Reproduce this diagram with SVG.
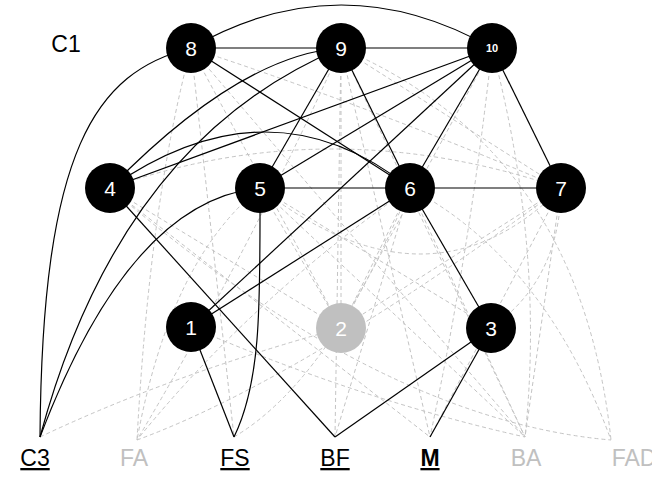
<svg xmlns="http://www.w3.org/2000/svg" width="652" height="478" viewBox="0 0 652 478">
<style>
.e{fill:none;stroke:#000;stroke-width:1.2}
.d{fill:none;stroke:#c4c4c4;stroke-width:1;stroke-dasharray:4,3}
.n circle{fill:#000}
.n text{fill:#fff;font-family:"Liberation Sans",Arial,sans-serif;font-size:21px;text-anchor:middle}
.g circle{fill:#c0c0c0}
.lb{font-family:"Liberation Sans",Arial,sans-serif;font-size:23px;text-anchor:middle}
</style>
<rect width="652" height="478" fill="#fff"/>
<g id="dashed">
<path class="d" d="M191,48 Q150,200 137,440"/>
<path class="d" d="M191,48 L234,437"/>
<path class="d" d="M191,48 L341,328"/>
<path class="d" d="M191,48 Q380,110 561,188"/>
<path class="d" d="M191,48 L525,437"/>
<path class="d" d="M341,48 L341,328"/>
<path class="d" d="M341,48 L335,437"/>
<path class="d" d="M341,48 Q250,250 137,440"/>
<path class="d" d="M341,48 L430,437"/>
<path class="d" d="M341,48 L525,437"/>
<path class="d" d="M341,48 L561,188"/>
<path class="d" d="M341,48 Q580,150 611,440"/>
<path class="d" d="M492,48 L341,328"/>
<path class="d" d="M492,48 Q470,250 430,437"/>
<path class="d" d="M492,48 Q545,250 525,437"/>
<path class="d" d="M110,188 L341,328"/>
<path class="d" d="M110,188 L430,437"/>
<path class="d" d="M110,188 Q330,110 561,188"/>
<path class="d" d="M110,188 Q380,420 611,440"/>
<path class="d" d="M260,188 L341,328"/>
<path class="d" d="M260,188 L525,437"/>
<path class="d" d="M260,188 L491,328"/>
<path class="d" d="M260,188 Q170,260 137,440"/>
<path class="d" d="M260,188 Q430,320 561,188"/>
<path class="d" d="M410,188 Q250,300 137,440"/>
<path class="d" d="M410,188 L341,328"/>
<path class="d" d="M410,188 L335,437"/>
<path class="d" d="M410,188 L525,437"/>
<path class="d" d="M410,188 Q545,260 611,440"/>
<path class="d" d="M561,188 L341,328"/>
<path class="d" d="M561,188 Q560,280 491,328"/>
<path class="d" d="M561,188 L525,437"/>
<path class="d" d="M561,188 L430,437"/>
<path class="d" d="M191,327 Q360,400 525,437"/>
<path class="d" d="M40,437 Q170,375 341,328"/>
<path class="d" d="M234,437 Q330,380 410,188"/>
<path class="d" d="M137,440 Q300,380 561,188"/>
</g>
<g id="edges">
<path class="e" d="M191,48 L341,48"/>
<path class="e" d="M341,48 L492,48"/>
<path class="e" d="M191,48 Q341,-38 492,48"/>
<path class="e" d="M191,48 L410,188"/>
<path class="e" d="M191,48 C95,72 42,150 40,437"/>
<path class="e" d="M341,48 Q240,55 110,188"/>
<path class="e" d="M341,48 Q120,140 40,437"/>
<path class="e" d="M341,48 L260,188"/>
<path class="e" d="M341,48 L410,188"/>
<path class="e" d="M492,48 L110,188"/>
<path class="e" d="M492,48 L260,188"/>
<path class="e" d="M492,48 L191,327"/>
<path class="e" d="M492,48 L410,188"/>
<path class="e" d="M492,48 L561,188"/>
<path class="e" d="M110,188 Q270,76 410,188"/>
<path class="e" d="M110,188 L335,437"/>
<path class="e" d="M260,188 L410,188"/>
<path class="e" d="M410,188 L561,188"/>
<path class="e" d="M260,188 Q130,200 40,437"/>
<path class="e" d="M260,188 C260,300 262,380 234,437"/>
<path class="e" d="M410,188 L191,327"/>
<path class="e" d="M410,188 L491,328"/>
<path class="e" d="M191,327 L234,437"/>
<path class="e" d="M491,328 L335,437"/>
<path class="e" d="M491,328 L430,437"/>
</g>
<g id="n8" class="n"><circle cx="191" cy="48" r="25"/><text x="191" y="55.5">8</text></g>
<g id="n9" class="n"><circle cx="341" cy="48" r="25"/><text x="341" y="55.5">9</text></g>
<g id="n10" class="n"><circle cx="492" cy="48" r="25"/><text x="492" y="52" style="font-size:11px;font-weight:bold">10</text></g>
<g id="n4" class="n"><circle cx="110" cy="188" r="25"/><text x="110" y="195.5">4</text></g>
<g id="n5" class="n"><circle cx="260" cy="188" r="25"/><text x="260" y="195.5">5</text></g>
<g id="n6" class="n"><circle cx="410" cy="188" r="25"/><text x="410" y="195.5">6</text></g>
<g id="n7" class="n"><circle cx="561" cy="188" r="25"/><text x="561" y="195.5">7</text></g>
<g id="n1" class="n"><circle cx="191" cy="327" r="25"/><text x="191" y="334.5">1</text></g>
<g id="n2" class="n g"><circle cx="341" cy="328" r="25"/><text x="341" y="335.5">2</text></g>
<g id="n3" class="n"><circle cx="491" cy="328" r="25"/><text x="491" y="335.5">3</text></g>
<g id="labels">
<text class="lb" x="66" y="52">C1</text>
<text class="lb" x="35" y="466" text-decoration="underline">C3</text>
<text class="lb" x="134" y="466" fill="#c0c0c0">FA</text>
<text class="lb" x="235" y="466" text-decoration="underline">FS</text>
<text class="lb" x="335" y="466" text-decoration="underline">BF</text>
<text class="lb" x="430" y="466" text-decoration="underline" font-weight="bold">M</text>
<text class="lb" x="526" y="466" fill="#c0c0c0">BA</text>
<text class="lb" x="634" y="466" fill="#c0c0c0">FAD</text>
</g>
</svg>
